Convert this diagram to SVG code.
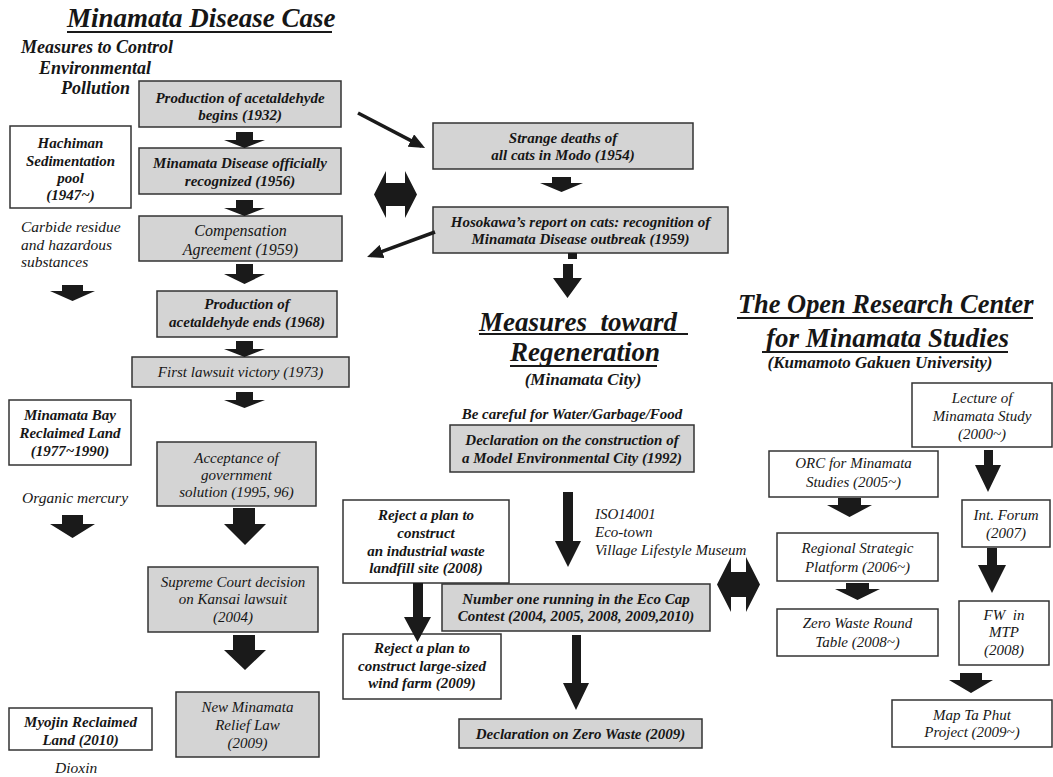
<svg xmlns="http://www.w3.org/2000/svg" width="1053" height="777" viewBox="0 0 1053 777">
<style>
.bg{fill:#ffffff}
.g{fill:#d4d4d4;stroke:#333;stroke-width:1.5}
.w{fill:#ffffff;stroke:#333;stroke-width:1.5}
text{font-family:"Liberation Serif","Times New Roman",serif;font-style:italic;fill:#161616}
.b{font-weight:bold;font-size:15px;text-anchor:middle}
.r{font-size:15px;text-anchor:middle}
.ann{font-size:15.5px}
.mc{font-weight:bold;font-size:18px}
.h{font-weight:bold;font-size:27px}
.sub{font-weight:bold;font-size:17px;text-anchor:middle}
.ar{fill:#1a1a1a}
.ul{stroke:#1a1a1a;stroke-width:2}
.dl{stroke:#1a1a1a;stroke-width:3.5;fill:none;marker-end:url(#ah)}
</style>
<defs>
<marker id="ah" markerUnits="userSpaceOnUse" markerWidth="16" markerHeight="14" refX="12" refY="7" orient="auto"><path d="M0,0 L16,7 L0,14 z" fill="#1a1a1a"/></marker>
</defs>
<rect class="bg" x="0" y="0" width="1053" height="777"/>

<g id="headings">
<text class="h" x="67" y="27">Minamata Disease Case</text>
<line class="ul" x1="67" y1="32" x2="332" y2="32"/>
<text class="mc" x="21" y="53">Measures to Control</text>
<text class="mc" x="39" y="74">Environmental</text>
<text class="mc" x="61" y="94">Pollution</text>
<text class="h" x="479" y="331" xml:space="preserve">Measures  toward</text>
<line class="ul" x1="479" y1="334" x2="688" y2="334"/>
<text class="h" x="510" y="361">Regeneration</text>
<line class="ul" x1="510" y1="366" x2="657" y2="366"/>
<text class="sub" x="583" y="385">(Minamata City)</text>
<text class="b" x="572" y="419">Be careful for Water/Garbage/Food</text>
<text class="h" x="738" y="313" style="font-size:26.4px">The Open Research Center</text>
<line class="ul" x1="737" y1="318" x2="1033" y2="318"/>
<text class="h" x="766" y="347">for Minamata Studies</text>
<line class="ul" x1="762" y1="352" x2="1008" y2="352"/>
<text class="sub" x="880" y="368">(Kumamoto Gakuen University)</text>
</g>

<g id="annotations">
<text class="ann" x="21" y="232">Carbide residue</text>
<text class="ann" x="21" y="250">and hazardous</text>
<text class="ann" x="21" y="267">substances</text>
<text class="ann" x="22" y="503">Organic mercury</text>
<text class="ann" x="55" y="773">Dioxin</text>
<text class="r" x="595" y="519" style="text-anchor:start">ISO14001</text>
<text class="r" x="595" y="537" style="text-anchor:start">Eco-town</text>
<text class="r" x="595" y="555" style="text-anchor:start">Village Lifestyle Museum</text>
</g>

<g id="n-acet-begins"><rect class="g" x="139" y="81" width="202" height="46"/>
<text class="b" x="240" y="103">Production of acetaldehyde</text><text class="b" x="240" y="120">begins (1932)</text></g>
<g id="n-recognized"><rect class="g" x="139" y="148" width="202" height="46"/>
<text class="b" x="240" y="168">Minamata Disease officially</text><text class="b" x="240" y="186">recognized (1956)</text></g>
<g id="n-compensation"><rect class="g" x="139" y="216" width="203" height="45"/>
<text class="r" style="font-size:16px" x="240.5" y="236">Compensation</text><text class="r" style="font-size:16px" x="240.5" y="255">Agreement (1959)</text></g>
<g id="n-acet-ends"><rect class="g" x="157" y="291" width="180" height="46"/>
<text class="b" x="247" y="309">Production of</text><text class="b" x="247" y="327">acetaldehyde ends (1968)</text></g>
<g id="n-lawsuit"><rect class="g" x="132" y="357" width="217" height="30"/>
<text class="r" x="240.5" y="377">First lawsuit victory (1973)</text></g>
<g id="n-acceptance"><rect class="g" x="157" y="442" width="159" height="64"/>
<text class="r" x="236.5" y="463">Acceptance of</text><text class="r" x="236.5" y="480">government</text><text class="r" x="236.5" y="497">solution (1995, 96)</text></g>
<g id="n-supreme"><rect class="g" x="148" y="567" width="170" height="65"/>
<text class="r" x="233" y="587">Supreme Court decision</text><text class="r" x="233" y="604">on Kansai lawsuit</text><text class="r" x="233" y="622">(2004)</text></g>
<g id="n-relief"><rect class="g" x="176" y="692" width="143" height="65"/>
<text class="r" x="247.5" y="712">New Minamata</text><text class="r" x="247.5" y="730">Relief Law</text><text class="r" x="247.5" y="748">(2009)</text></g>

<g id="n-hachiman"><rect class="w" x="10" y="126" width="121" height="82"/>
<text class="b" x="70.5" y="148">Hachiman</text><text class="b" x="70.5" y="166">Sedimentation</text><text class="b" x="70.5" y="183">pool</text><text class="b" x="70.5" y="200">(1947~)</text></g>
<g id="n-baylanding"><rect class="w" x="9" y="400" width="122" height="65"/>
<text class="b" x="70" y="420">Minamata Bay</text><text class="b" x="70" y="438">Reclaimed Land</text><text class="b" x="70" y="456">(1977~1990)</text></g>
<g id="n-myojin"><rect class="w" x="9" y="708" width="143" height="42"/>
<text class="b" x="80.5" y="727">Myojin Reclaimed</text><text class="b" x="80.5" y="745">Land (2010)</text></g>

<g id="n-cats"><rect class="g" x="433" y="123" width="260" height="46"/>
<text class="b" x="563" y="143">Strange deaths of</text><text class="b" x="563" y="160">all cats in Modo (1954)</text></g>
<g id="n-hosokawa"><rect class="g" x="433" y="207" width="295" height="46"/>
<text class="b" x="580.5" y="227">Hosokawa’s report on cats: recognition of</text><text class="b" x="580.5" y="244">Minamata Disease outbreak (1959)</text></g>
<g id="n-model-city"><rect class="g" x="450" y="425" width="244" height="47"/>
<text class="b" x="572" y="445">Declaration on the construction of</text><text class="b" x="572" y="463">a Model Environmental City (1992)</text></g>
<g id="n-reject1"><rect class="w" x="343" y="500" width="166" height="83"/>
<text class="b" x="426" y="520">Reject a plan to</text><text class="b" x="426" y="538">construct</text><text class="b" x="426" y="556">an industrial waste</text><text class="b" x="426" y="573">landfill site (2008)</text></g>
<g id="n-ecocap"><rect class="g" x="442" y="584" width="268" height="47"/>
<text class="b" x="576" y="604">Number one running in the Eco Cap</text><text class="b" x="576" y="621">Contest (2004, 2005, 2008, 2009,2010)</text></g>
<g id="n-reject2"><rect class="w" x="343" y="634" width="158" height="65"/>
<text class="b" x="422" y="653">Reject a plan to</text><text class="b" x="422" y="671">construct large-sized</text><text class="b" x="422" y="688">wind farm (2009)</text></g>
<g id="n-zerowaste"><rect class="g" x="459" y="719" width="243" height="29"/>
<text class="b" x="580.5" y="739">Declaration on Zero Waste (2009)</text></g>

<g id="n-lecture"><rect class="w" x="912" y="383" width="140" height="64"/>
<text class="r" x="982" y="403">Lecture of</text><text class="r" x="982" y="421">Minamata Study</text><text class="r" x="982" y="439">(2000~)</text></g>
<g id="n-orc"><rect class="w" x="769" y="451" width="169" height="46"/>
<text class="r" x="853.5" y="468">ORC for Minamata</text><text class="r" x="853.5" y="487">Studies (2005~)</text></g>
<g id="n-forum"><rect class="w" x="962" y="500" width="88" height="47"/>
<text class="r" x="1006" y="520">Int. Forum</text><text class="r" x="1006" y="538">(2007)</text></g>
<g id="n-regional"><rect class="w" x="777" y="533" width="161" height="48"/>
<text class="r" x="857.5" y="553">Regional Strategic</text><text class="r" x="857.5" y="572">Platform (2006~)</text></g>
<g id="n-roundtable"><rect class="w" x="777" y="609" width="161" height="47"/>
<text class="r" x="857.5" y="628">Zero Waste Round</text><text class="r" x="857.5" y="647">Table (2008~)</text></g>
<g id="n-fw"><rect class="w" x="959" y="601" width="90" height="64"/>
<text class="r" x="1004" y="620" xml:space="preserve">FW  in</text><text class="r" x="1004" y="637">MTP</text><text class="r" x="1004" y="655">(2008)</text></g>
<g id="n-maptaphut"><rect class="w" x="892" y="700" width="160" height="47"/>
<text class="r" x="972" y="720">Map Ta Phut</text><text class="r" x="972" y="737">Project (2009~)</text></g>

<g id="connectors">
<path class="ar" d="M236,132 H253 V140 H265 L244.5,148 L224,140 H236 Z"/>
<path class="ar" d="M236,200 H253 V208 H265 L244.5,216 L224,208 H236 Z"/>
<path class="ar" d="M236,264 H253 V274 H265 L244.5,284 L224,274 H236 Z"/>
<path class="ar" d="M236,341 H253 V349 H265 L244.5,357 L224,349 H236 Z"/>
<path class="ar" d="M236,392 H253 V400 H265 L244.5,408 L224,400 H236 Z"/>
<path class="ar" d="M233,508 H255 V524 H266 L245,545 L224,524 H233 Z"/>
<path class="ar" d="M233,635 H255 V650 H266 L245,670 L224,650 H233 Z"/>
<path class="ar" d="M62,285 H83 V291 H95 L72.5,301 L50,291 H62 Z"/>
<path class="ar" d="M62,515 H83 V524 H95 L72.5,538 L50,524 H62 Z"/>
<line class="dl" x1="358" y1="113" x2="421.5" y2="146.1"/>
<line class="dl" x1="435" y1="232" x2="370.8" y2="255.6"/>
<path class="ar" d="M374,194.5 L386,171 V183 H405 V171 L417,194.5 L405,218 V206 H386 V218 Z"/>
<path class="ar" d="M552,177 H571 V183 H583 L561.5,192 L540,183 H552 Z"/>
<rect class="ar" x="568" y="253" width="9" height="6"/>
<path class="ar" d="M563,264 H573 V278 H582 L567.5,298 L553,278 H563 Z"/>
<path class="ar" d="M563,492 H573 V541 H581 L568,567 L555,541 H563 Z"/>
<path class="ar" d="M413,583 H423 V617 H431 L417.5,642 L404,617 H413 Z"/>
<path class="ar" d="M572,635 H581 V683 H589 L576,710 L563,683 H572 Z"/>
<path class="ar" d="M717,584.5 L731,557 V572 H746 V557 L760,584.5 L746,612 V597 H731 V612 Z"/>
<path class="ar" d="M984,450 H993 V465 H1001 L988,492 L975,465 H984 Z"/>
<path class="ar" d="M838,498 H861 V505 H872 L849.5,517 L827,505 H838 Z"/>
<path class="ar" d="M846,583 H869 V589 H880 L857.5,600 L835,589 H846 Z"/>
<path class="ar" d="M987,548 H997 V565 H1006 L992,593 L978,565 H987 Z"/>
<path class="ar" d="M960,673 H982 V680 H993 L971,693 L949,680 H960 Z"/>
</g>
</svg>
